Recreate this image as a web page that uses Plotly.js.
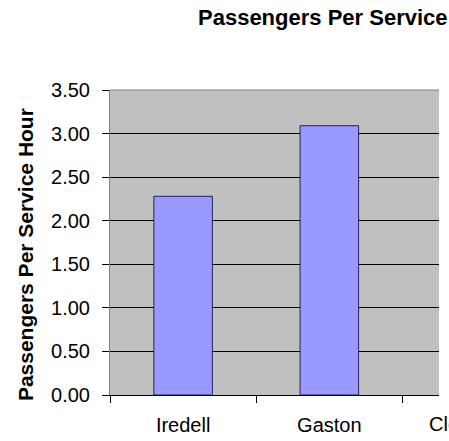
<!DOCTYPE html>
<html>
<head>
<meta charset="utf-8">
<script src="https://cdn.plot.ly/plotly-3.0.1.min.js"></script>
<style>html,body{margin:0;padding:0;background:#fff;overflow:hidden}#chart{width:449px;height:441px}</style>
</head>
<body>
<div id="chart"></div>
<script>
// Data
const categories = ['Iredell', 'Gaston', 'Cleveland'];
const passengersPerHour = [2.28, 3.09, null];
const chartTitle = 'Passengers Per Service Hour';
const yTitle = 'Passengers Per Service Hour';
const yTickVals = [0, 0.5, 1, 1.5, 2, 2.5, 3, 3.5];

const FONT = 'Arial, "Liberation Sans", sans-serif';
const xRange = [-0.5, 1.75];   // the reference is cropped inside the third category
const hiddenCat = 2;
const hiddenPaperX = (hiddenCat - xRange[0]) / (xRange[1] - xRange[0]);

const trace = {
  type: 'bar',
  x: categories,
  y: passengersPerHour,
  width: 0.4,
  marker: { color: '#9999FF', line: { color: '#23235a', width: 1 } },
  hoverinfo: 'x+y'
};

const layout = {
  width: 449, height: 441,
  margin: { l: 110, r: 10, t: 90, b: 46 },
  paper_bgcolor: '#ffffff',
  plot_bgcolor: '#C0C0C0',
  font: { family: FONT, color: '#000', size: 20 },
  showlegend: false,
  title: {
    text: '<b>' + chartTitle + '</b>',
    font: { family: FONT, size: 22, color: '#000' },
    xref: 'container', yref: 'container',
    x: 0.441, xanchor: 'left', y: 0.961, yanchor: 'middle'
  },
  xaxis: {
    type: 'category',
    range: xRange,
    showline: true, linecolor: '#000', linewidth: 1,
    ticks: 'outside', tickson: 'boundaries', ticklen: 7, tickcolor: '#000',
    ticklabelstandoff: 12,
    showgrid: false, zeroline: false,
    tickfont: { family: FONT, size: 20 },
    fixedrange: true
  },
  yaxis: {
    range: [0, 3.5],
    tickvals: yTickVals,
    tickformat: '.2f',
    showline: true, linecolor: '#808080', linewidth: 1,
    ticks: 'outside', ticklen: 7, tickcolor: '#000',
    ticklabelstandoff: 8,
    showgrid: true, gridcolor: '#000', gridwidth: 1,
    zeroline: false,
    tickfont: { family: FONT, size: 20 },
    fixedrange: true
  },
  shapes: [
    { type: 'line', xref: 'paper', yref: 'paper', x0: 0, x1: 1, y0: 1, y1: 1,
      line: { color: '#808080', width: 1 } }
  ],
  annotations: [
    { xref: 'paper', yref: 'paper', x: hiddenPaperX, y: 0, xanchor: 'center', yanchor: 'top',
      yshift: -16, xshift: -2, text: categories[hiddenCat], showarrow: false,
      font: { family: FONT, size: 20, color: '#000' } },
    { xref: 'paper', yref: 'paper', x: -0.258, y: 0.459, xanchor: 'center', yanchor: 'middle',
      textangle: -90, text: '<b>' + yTitle + '</b>', showarrow: false,
      font: { family: FONT, size: 21, color: '#000' } }
  ],
  bargap: 0.6
};

Plotly.newPlot('chart', [trace], layout, { displayModeBar: false, staticPlot: true });
</script>
</body>
</html>
